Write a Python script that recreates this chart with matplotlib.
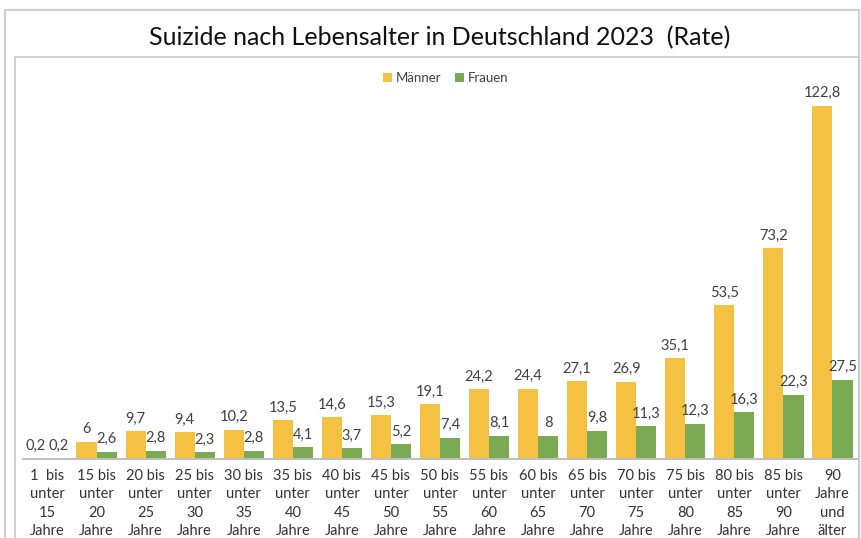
import matplotlib
matplotlib.use("Agg")
import matplotlib.pyplot as plt
from matplotlib.patches import Rectangle
import numpy as np

plt.rcParams['font.family'] = ['Lato', 'DejaVu Sans']

categories = ["1  bis\nunter\n15\nJahre", "15 bis\nunter\n20\nJahre", "20 bis\nunter\n25\nJahre",
              "25 bis\nunter\n30\nJahre", "30 bis\nunter\n35\nJahre", "35 bis\nunter\n40\nJahre",
              "40 bis\nunter\n45\nJahre", "45 bis\nunter\n50\nJahre", "50 bis\nunter\n55\nJahre",
              "55 bis\nunter\n60\nJahre", "60 bis\nunter\n65\nJahre", "65 bis\nunter\n70\nJahre",
              "70 bis\nunter\n75\nJahre", "75 bis\nunter\n80\nJahre", "80 bis\nunter\n85\nJahre",
              "85 bis\nunter\n90\nJahre", "90\nJahre\nund\nälter"]
maenner = [0.2, 6, 9.7, 9.4, 10.2, 13.5, 14.6, 15.3, 19.1, 24.2, 24.4, 27.1, 26.9, 35.1, 53.5, 73.2, 122.8]
frauen = [0.2, 2.6, 2.8, 2.3, 2.8, 4.1, 3.7, 5.2, 7.4, 8.1, 8, 9.8, 11.3, 12.3, 16.3, 22.3, 27.5]

W, H = 861, 538
fig = plt.figure(figsize=(W / 100, H / 100), dpi=100)

# chart borders
fig.add_artist(Rectangle((5 / W, -0.1), (W - 7) / W, 1.1 - 10 / H, transform=fig.transFigure,
                         fill=False, edgecolor="#d0d0d0", linewidth=1.5))
fig.add_artist(Rectangle((15 / W, -0.1), (W - 17) / W, 1.1 - 57 / H, transform=fig.transFigure,
                         fill=False, edgecolor="#c8c8c8", linewidth=1.2))

ax = fig.add_axes([23 / W, 1 - 459 / H, 834 / W, (459 - 62) / H])
x = np.arange(len(categories))
bw = 0.41
b1 = ax.bar(x - bw / 2, maenner, bw, color="#F4C142", label="Männer")
b2 = ax.bar(x + bw / 2, frauen, bw, color="#7BAA55", label="Frauen")

def fmt(v):
    s = ("%g" % v).replace(".", ",")
    return s

for bars, vals, dx in ((b1, maenner, -1), (b2, frauen, 1)):
    for i, (r, v) in enumerate(zip(bars, vals)):
        off = dx * 1 if i == 0 else 0
        ax.annotate(fmt(v), (r.get_x() + r.get_width() / 2, v), xytext=(off, 4),
                    textcoords="offset points", ha="center", va="bottom",
                    fontsize=10.5, color="#404040")

ax.set_xlim(-0.5, len(categories) - 0.5)
ax.set_ylim(0, 138)
ax.set_yticks([])
ax.set_xticks(x)
ax.set_xticklabels(categories, fontsize=10.5, color="#333333", linespacing=1.4)
ax.tick_params(axis="x", length=0, pad=7)
for s in ("top", "right", "left"):
    ax.spines[s].set_visible(False)
ax.spines["bottom"].set_color("#bfbfbf")
ax.spines["bottom"].set_linewidth(1.5)

ax.legend(loc="upper center", bbox_to_anchor=(0.507, 1.005), ncol=2, frameon=False,
          fontsize=9.5, handlelength=0.7, handleheight=0.7, handletextpad=0.3, columnspacing=1.0,
          labelcolor="#404040")

fig.text(0.511, 1 - 38 / H, "Suizide nach Lebensalter in Deutschland 2023  (Rate)",
         ha="center", va="center", fontsize=18, color="#111111")

fig.savefig("out.png", dpi=100)
